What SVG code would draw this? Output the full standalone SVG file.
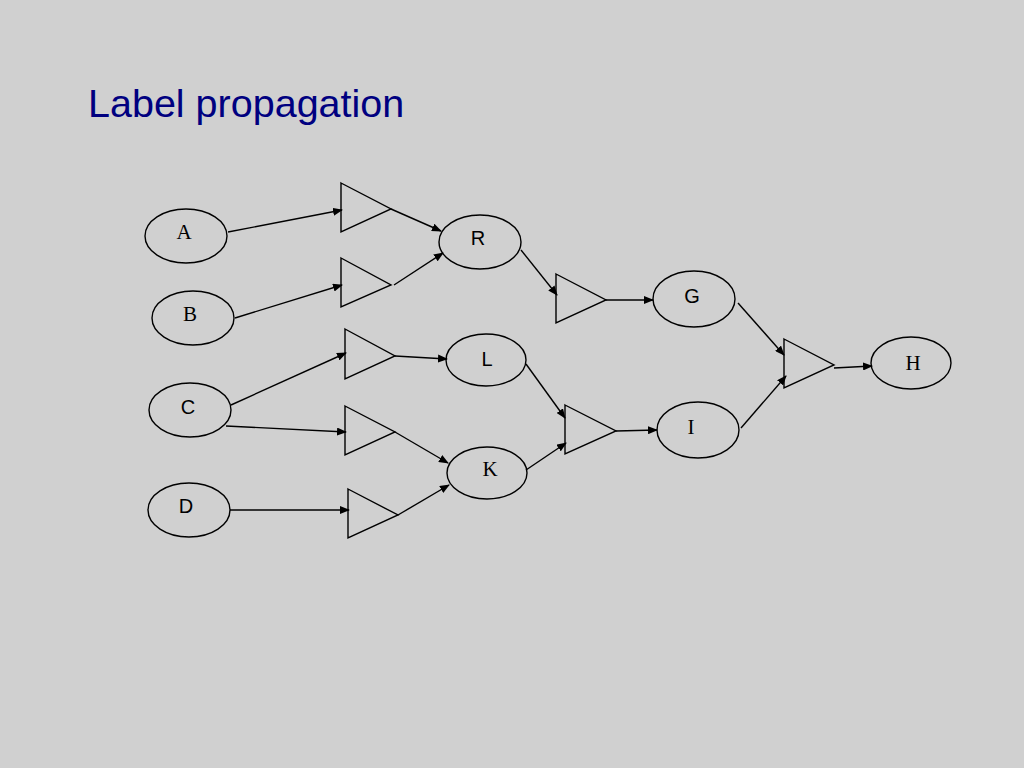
<svg xmlns="http://www.w3.org/2000/svg" width="1024" height="768" viewBox="0 0 1024 768">
<defs>
<marker id="ah" markerWidth="10" markerHeight="8" refX="9" refY="4" orient="auto" markerUnits="userSpaceOnUse">
<path d="M0,0 L10,4 L0,8 Z" fill="#000"/>
</marker>
<style>
.n ellipse{fill:none;stroke:#000;stroke-width:1.4}
.t polygon{fill:none;stroke:#000;stroke-width:1.4}
.e line{stroke:#000;stroke-width:1.4;marker-end:url(#ah)}
.s{font-family:"Liberation Sans",Arial,sans-serif;font-size:20px;text-anchor:middle;fill:#000}
.r{font-family:"Liberation Serif","Times New Roman",serif;font-size:21px;text-anchor:middle;fill:#000}
</style>
</defs>
<rect width="1024" height="768" fill="#d0d0d0"/>
<text x="88" y="117" font-family="Liberation Sans,Arial,sans-serif" font-size="39.5" fill="#000080">Label propagation</text>
<g id="A" class="n"><ellipse cx="186" cy="236" rx="41" ry="27"/><text class="r" x="184" y="239">A</text></g>
<g id="B" class="n"><ellipse cx="193" cy="318" rx="41" ry="27"/><text class="r" x="190" y="321">B</text></g>
<g id="C" class="n"><ellipse cx="190" cy="410" rx="41" ry="27"/><text class="s" x="188" y="414">C</text></g>
<g id="D" class="n"><ellipse cx="189" cy="510" rx="41" ry="27"/><text class="s" x="186" y="513">D</text></g>
<g id="R" class="n"><ellipse cx="480" cy="242" rx="41" ry="27"/><text class="s" x="478" y="245">R</text></g>
<g id="L" class="n"><ellipse cx="486" cy="360" rx="40" ry="26"/><text class="s" x="487" y="366">L</text></g>
<g id="K" class="n"><ellipse cx="487" cy="473" rx="40" ry="26"/><text class="r" x="490" y="476">K</text></g>
<g id="G" class="n"><ellipse cx="694" cy="299" rx="41" ry="28"/><text class="s" x="692" y="303">G</text></g>
<g id="I" class="n"><ellipse cx="698" cy="430" rx="41" ry="28"/><text class="r" x="691" y="434">I</text></g>
<g id="H" class="n"><ellipse cx="911" cy="363" rx="40" ry="26"/><text class="r" x="913" y="370">H</text></g>
<g id="T1" class="t"><polygon points="341,183 391,209 341,232"/></g>
<g id="T2" class="t"><polygon points="341,258 391,285 341,307"/></g>
<g id="T3" class="t"><polygon points="345,329 395,356 345,379"/></g>
<g id="T4" class="t"><polygon points="345,406 395,432 345,455"/></g>
<g id="T5" class="t"><polygon points="348,489 398,515 348,538"/></g>
<g id="T6" class="t"><polygon points="556,274 606,300 556,323"/></g>
<g id="T7" class="t"><polygon points="565,405 616,431 565,454"/></g>
<g id="T8" class="t"><polygon points="784,339 834,365 784,388"/></g>
<g id="connectors" class="e">
<line x1="228" y1="232" x2="342" y2="210"/>
<line x1="391" y1="209" x2="441" y2="231"/>
<line x1="235" y1="318" x2="342" y2="285"/>
<line x1="394" y1="285" x2="443" y2="253"/>
<line x1="231" y1="405" x2="346" y2="353"/>
<line x1="395" y1="356" x2="447" y2="359"/>
<line x1="226" y1="426" x2="346" y2="432"/>
<line x1="395" y1="432" x2="448" y2="463"/>
<line x1="230" y1="510" x2="349" y2="510"/>
<line x1="398" y1="515" x2="449" y2="485"/>
<line x1="521" y1="250" x2="557" y2="295"/>
<line x1="606" y1="300" x2="653" y2="300"/>
<line x1="526" y1="364" x2="565" y2="418"/>
<line x1="526" y1="470" x2="566" y2="443"/>
<line x1="616" y1="431" x2="657" y2="430"/>
<line x1="738" y1="303" x2="784" y2="355"/>
<line x1="741" y1="428" x2="786" y2="376"/>
<line x1="834" y1="368" x2="872" y2="366"/>
</g>
</svg>
